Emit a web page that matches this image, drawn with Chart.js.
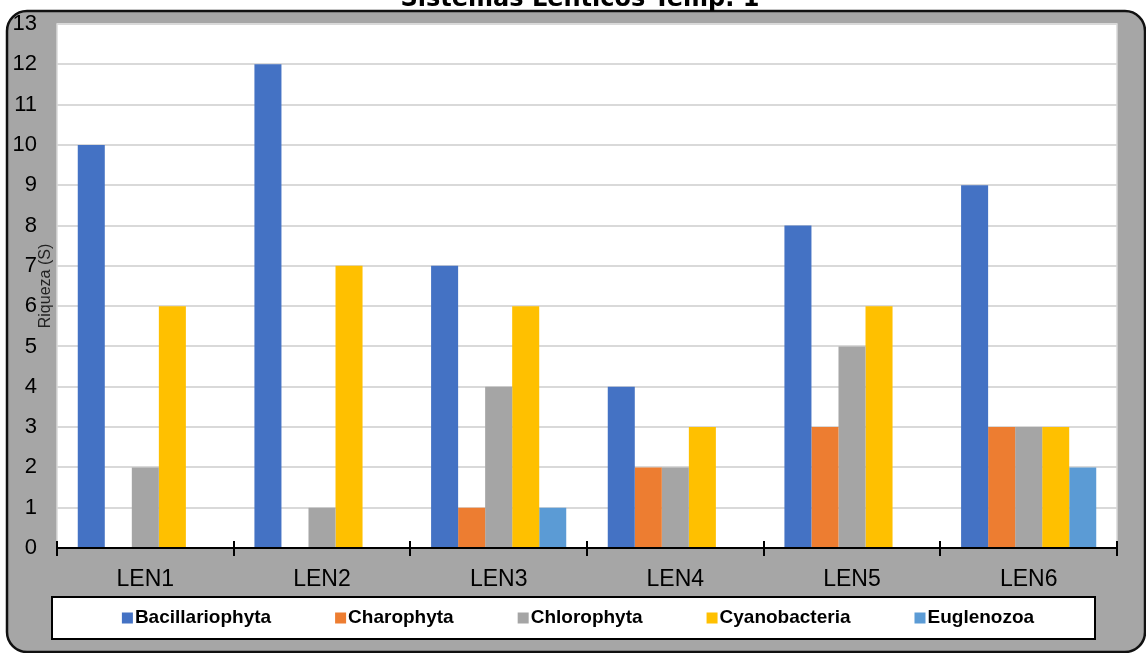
<!DOCTYPE html>
<html>
<head>
<meta charset="utf-8">
<script src="https://cdn.jsdelivr.net/npm/chart.js@4.4.1/dist/chart.umd.min.js"></script>
<style>
  html, body { margin: 0; padding: 0; background: #fff; }
  .chart-container { width: 1146px; height: 653px; }
</style>
</head>
<body>
<div class="chart-container">
  <canvas id="chart" width="1146" height="653"></canvas>
</div>
<script>
const sites = ['LEN1', 'LEN2', 'LEN3', 'LEN4', 'LEN5', 'LEN6'];

const bacillariophyta = [10, 12, 7, 4, 8, 9];
const charophyta = [0, 0, 1, 2, 3, 3];
const chlorophyta = [2, 1, 4, 2, 5, 3];
const cyanobacteria = [6, 7, 6, 3, 6, 3];
const euglenozoa = [0, 0, 1, 0, 0, 2];

const yTicks = [0, 1, 2, 3, 4, 5, 6, 7, 8, 9, 10, 11, 12, 13];

const chartTitle = 'Sistemas Lénticos Temp. 1';
const yTitle = 'Riqueza (S)';

// frame, white plot area, axis cross ticks, boxed legend and title
const framePlugin = {
  id: 'frame',
  beforeDraw(chart) {
    const { ctx, chartArea: a } = chart;
    ctx.save();
    ctx.fillStyle = '#fff';
    ctx.fillRect(0, 0, chart.width, chart.height);
    ctx.beginPath();
    ctx.roundRect(7, 11, 1138, 641, 20);
    ctx.fillStyle = '#a6a6a6';
    ctx.fill();
    ctx.lineWidth = 2.5;
    ctx.strokeStyle = '#111';
    ctx.stroke();
    ctx.fillStyle = '#fff';
    ctx.fillRect(a.left, a.top, a.right - a.left, a.bottom - a.top);
    ctx.strokeStyle = '#d9d9d9';
    ctx.lineWidth = 1.5;
    ctx.strokeRect(a.left, a.top, a.right - a.left, a.bottom - a.top);
    ctx.restore();
  },
  afterDraw(chart) {
    const { ctx, scales: { x } } = chart;
    ctx.save();

    // ticks crossing the category axis at group boundaries
    const n = chart.data.labels.length;
    const step = (x.right - x.left) / n;
    ctx.strokeStyle = '#000';
    ctx.lineWidth = 2;
    for (let i = 0; i <= n; i++) {
      const px = Math.round(x.left + i * step);
      ctx.beginPath();
      ctx.moveTo(px, x.top - 7);
      ctx.lineTo(px, x.top + 8);
      ctx.stroke();
    }

    // legend box
    ctx.fillStyle = '#fff';
    ctx.fillRect(52, 597, 1043, 42);
    ctx.strokeStyle = '#000';
    ctx.lineWidth = 2;
    ctx.strokeRect(52, 597, 1043, 42);

    ctx.font = 'bold 19px "Liberation Sans", Arial, sans-serif';
    ctx.textBaseline = 'middle';
    ctx.textAlign = 'left';
    const sets = chart.data.datasets;
    const box = 11, gap = 2, itemGap = 64;
    const widths = sets.map(d => box + gap + ctx.measureText(d.label).width);
    const total = widths.reduce((s, w) => s + w, 0) + itemGap * (sets.length - 1);
    let lx = 578 - total / 2;
    const ly = 618;
    sets.forEach((d, i) => {
      ctx.fillStyle = d.backgroundColor;
      ctx.fillRect(lx, ly - box / 2, box, box);
      ctx.fillStyle = '#000';
      ctx.fillText(d.label, lx + box + gap, ly);
      lx += widths[i] + itemGap;
    });

    // title, cut by the top edge as in the original
    ctx.font = 'bold 24px "DejaVu Sans", sans-serif';
    ctx.textAlign = 'center';
    ctx.textBaseline = 'alphabetic';
    ctx.fillStyle = '#000';
    ctx.fillText(chartTitle, 580, 6);
    ctx.restore();
  }
};

const ctx = document.getElementById('chart').getContext('2d');

new Chart(ctx, {
  type: 'bar',
  data: {
    labels: sites,
    datasets: [
      { label: 'Bacillariophyta', data: bacillariophyta, backgroundColor: '#4472c4' },
      { label: 'Charophyta', data: charophyta, backgroundColor: '#ed7d31' },
      { label: 'Chlorophyta', data: chlorophyta, backgroundColor: '#a5a5a5' },
      { label: 'Cyanobacteria', data: cyanobacteria, backgroundColor: '#ffc000' },
      { label: 'Euglenozoa', data: euglenozoa, backgroundColor: '#5b9bd5' }
    ]
  },
  options: {
    responsive: false,
    animation: false,
    events: [],
    layout: { padding: { top: 24, right: 29, left: 0, bottom: 0 } },
    datasets: {
      bar: { categoryPercentage: 0.765, barPercentage: 1, borderWidth: 0 }
    },
    plugins: {
      legend: { display: false },
      title: { display: false },
      tooltip: { enabled: false }
    },
    scales: {
      x: {
        grid: { display: false, drawTicks: false },
        border: { display: true, color: '#000', width: 2 },
        ticks: {
          color: '#000',
          padding: 18,
          font: { family: '"Liberation Sans", Arial, sans-serif', size: 23 }
        },
        afterFit(scale) {
          scale.height = 105;
          scale.paddingLeft = 0;
          scale.paddingRight = 0;
        }
      },
      y: {
        min: 0,
        max: yTicks[yTicks.length - 1],
        afterBuildTicks(scale) { scale.ticks = yTicks.map(v => ({ value: v })); },
        grid: { color: '#d9d9d9', lineWidth: 2, drawTicks: false },
        border: { display: false },
        ticks: {
          color: '#000',
          padding: 20,
          font: { family: '"Liberation Sans", Arial, sans-serif', size: 22 }
        },
        title: {
          display: true,
          text: yTitle,
          color: '#222',
          padding: { top: 36, bottom: 0 },
          font: { family: '"Liberation Sans", Arial, sans-serif', size: 16 }
        },
        afterFit(scale) {
          scale.width = 57;
          scale.paddingTop = 0;
          scale.paddingBottom = 0;
        }
      }
    }
  },
  plugins: [framePlugin]
});
</script>
</body>
</html>
